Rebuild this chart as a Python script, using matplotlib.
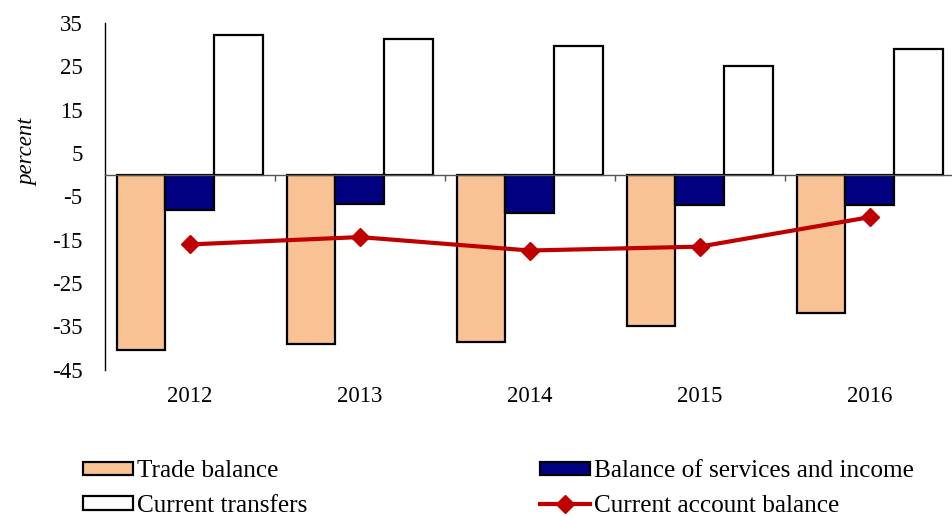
import numpy as np
import matplotlib
matplotlib.use("Agg")
import matplotlib.pyplot as plt

# balance of payments components, percent of GDP
years = ['2012', '2013', '2014', '2015', '2016']
trade_balance = [-40.4, -39.0, -38.6, -34.8, -32.0]
services_income = [-8.1, -6.8, -8.8, -7.0, -7.0]
current_transfers = [32.2, 31.2, 29.8, 25.1, 28.9]
current_account = [-16.1, -14.4, -17.5, -16.6, -9.8]

plt.rcParams['font.family'] = ['Liberation Serif', 'DejaVu Serif']
plt.rcParams['axes.unicode_minus'] = False
fs = 16.5

fig = plt.figure(figsize=(9.52, 5.16), dpi=100)
ax = fig.add_axes([0.110, 0.2835, 0.893, 0.672])

x = np.arange(len(years))
w = 0.2865
b1 = ax.bar(x - w, trade_balance, w, color='#F9C294', edgecolor='black', linewidth=1.6,
            label='Trade balance', zorder=2)
b2 = ax.bar(x, services_income, w, color='#000080', edgecolor='black', linewidth=1.6,
            label='Balance of services and income', zorder=2)
b3 = ax.bar(x + w, current_transfers, w, color='white', edgecolor='black', linewidth=1.6,
            label='Current transfers', zorder=2)
ln, = ax.plot(x, current_account, color='#C00000', linewidth=3, marker='D', markersize=9,
              label='Current account balance', zorder=3)

ax.set_xlim(-0.5, len(years) - 0.5)
ax.set_ylim(-45, 35)
ax.set_yticks(np.arange(-45, 36, 10))
ax.tick_params(axis='y', length=0, pad=16, labelsize=fs)

# x axis sits on zero, year labels pushed down below the plot
ax.spines['bottom'].set_position(('data', 0))
ax.spines['bottom'].set_color('#555555')
ax.spines['bottom'].set_linewidth(1)
ax.spines['top'].set_visible(False)
ax.spines['right'].set_visible(False)
ax.spines['left'].set_linewidth(1)
ax.set_xticks(x)
ax.set_xticklabels(years)
ax.set_xticks(np.arange(0.5, len(years) - 0.5, 1), minor=True)
ax.tick_params(axis='x', which='major', length=0, pad=152, labelsize=fs)
ax.tick_params(axis='x', which='minor', length=4, width=1, color='#555555', direction='out')

ax.set_ylabel('percent', fontsize=fs, style='italic')
ax.yaxis.set_label_coords(-0.078, 0.627)

lfs = 18.2
handles = [b1, b3, b2, ln]
fig.legend(handles, [hd.get_label() for hd in handles], ncol=2, loc='upper left',
           bbox_to_anchor=(0.0872, 0.108), frameon=False, fontsize=lfs,
           borderpad=0, borderaxespad=0, handlelength=1.98, handleheight=0.44,
           handletextpad=0.16, columnspacing=9.2, labelspacing=0.5)

fig.savefig('out.png', dpi=100)
